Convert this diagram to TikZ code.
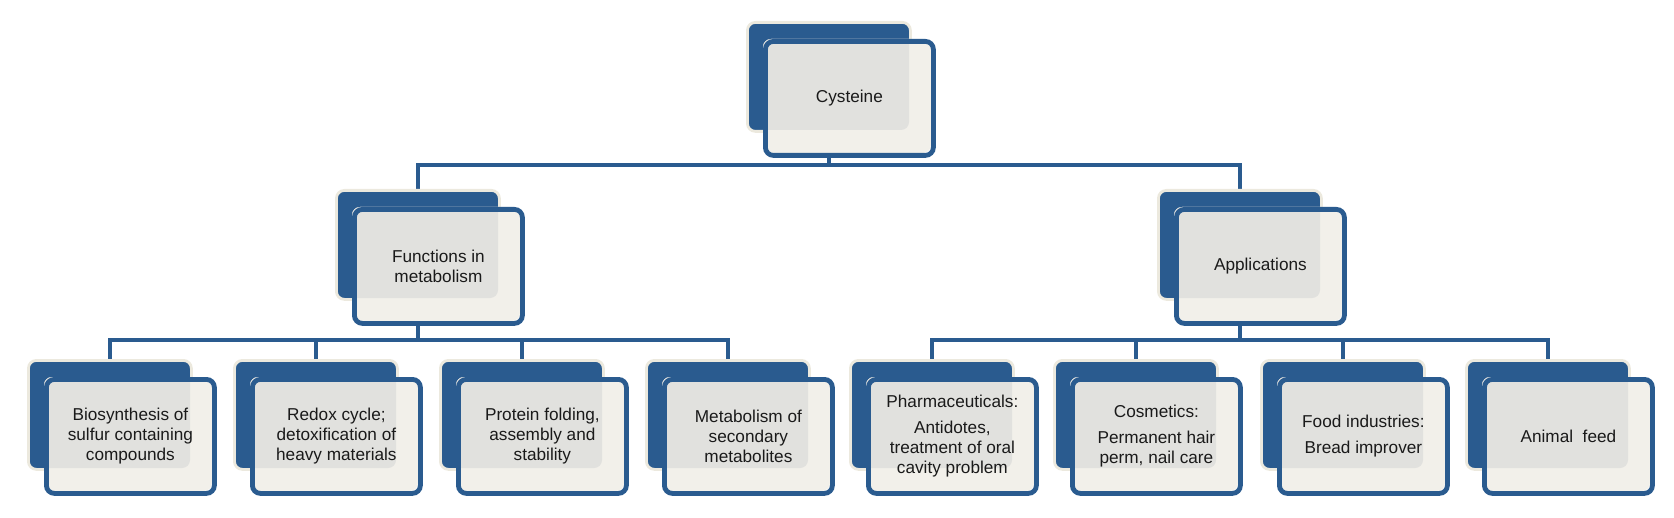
\documentclass[tikz,border=0pt]{standalone}
\usepackage{fontspec}
\setmainfont{Liberation Sans}
\usetikzlibrary{backgrounds}
\definecolor{cblue}{RGB}{42,91,143}
\definecolor{cedge}{RGB}{236,233,222}
\definecolor{cfront}{RGB}{242,240,234}
\definecolor{cover}{RGB}{225,225,222}
\definecolor{ctext}{RGB}{26,26,26}
\tikzset{
  backbox/.style={rectangle, rounded corners=4pt, fill=cblue, draw=cedge, line width=1.4pt,
    minimum width=81.5pt, minimum height=54.5pt, inner sep=0pt, anchor=north west},
  frontbox/.style={rectangle, rounded corners=4pt, draw=cblue, line width=2.4pt,
    minimum width=84pt, minimum height=57pt, inner sep=0pt, anchor=north west,
    align=center, text=ctext, font=\fontsize{8.6}{10}\selectfont},
  conn/.style={draw=cblue, line width=2pt}
}
\newcommand\cbox[4]{%
  \node[backbox] (#1-b) at (#2,#3) {};
  \fill[cfront, rounded corners=4pt] (#2+17,#3+18) rectangle (#2+185,#3+132);
  \begin{scope}
    \clip[rounded corners=4pt] (#2+17,#3+18) rectangle (#2+185,#3+132);
    \fill[cover, rounded corners=4pt] (#2,#3) rectangle (#2+163,#3+109);
  \end{scope}
  \node[frontbox] (#1) at (#2+17,#3+18) {#4};
}
\begin{document}
\begin{tikzpicture}[x=0.5pt,y=-0.5pt]
\useasboundingbox (0,0) rectangle (1674,518);
\cbox{top}{746}{21}{Cysteine}
\cbox{fun}{335}{189}{Functions in\\metabolism}
\cbox{app}{1157}{189}{Applications}
\cbox{b1}{27}{359}{Biosynthesis of\\sulfur containing\\compounds}
\cbox{b2}{233}{359}{Redox cycle;\\detoxification of\\heavy materials}
\cbox{b3}{439}{359}{Protein folding,\\assembly and\\stability}
\cbox{b4}{645}{359}{Metabolism of\\secondary\\metabolites}
\cbox{b5}{849}{359}{Pharmaceuticals:\\[3pt]Antidotes,\\treatment of oral\\cavity problem}
\cbox{b6}{1053}{359}{Cosmetics:\\[3pt]Permanent hair\\perm, nail care}
\cbox{b7}{1260}{359}{Food industries:\\[3pt]Bread improver}
\cbox{b8}{1465}{359}{Animal\ \ feed}
\begin{pgfonlayer}{background}
\coordinate (y1) at (0,165);
\coordinate (y2) at (0,340);
\coordinate (h1) at (top-b.south |- y1);
\coordinate (h2) at (fun-b.south |- y2);
\coordinate (h3) at (app-b.south |- y2);
\draw[conn] (top-b.south) -- (h1);
\draw[conn] (fun-b.north) |- (h1) -| (app-b.north);
\draw[conn] (fun-b.south) -- (h2);
\draw[conn] (b1-b.north) |- (h2) -| (b4-b.north);
\draw[conn] (b2-b.north) -- (b2-b.north |- h2);
\draw[conn] (b3-b.north) -- (b3-b.north |- h2);
\draw[conn] (app-b.south) -- (h3);
\draw[conn] (b5-b.north) |- (h3) -| (b8-b.north);
\draw[conn] (b6-b.north) -- (b6-b.north |- h3);
\draw[conn] (b7-b.north) -- (b7-b.north |- h3);
\end{pgfonlayer}
\end{tikzpicture}
\end{document}
